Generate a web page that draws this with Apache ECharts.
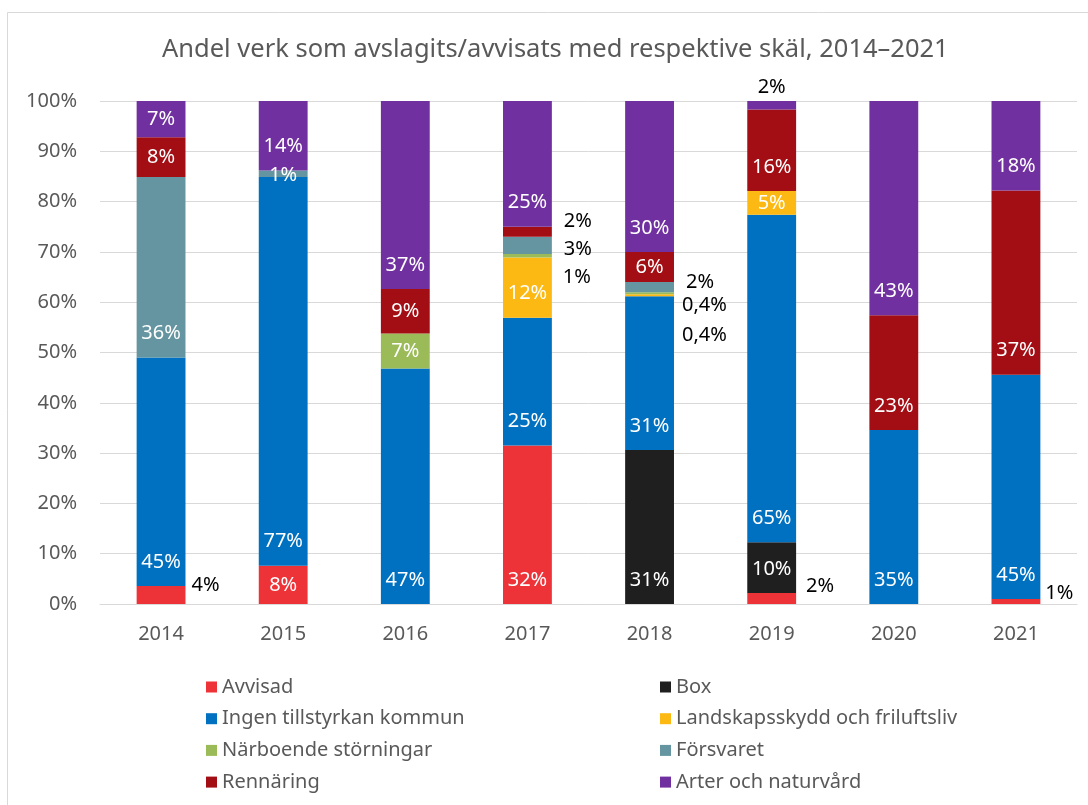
<!DOCTYPE html>
<html>
<head>
<meta charset="utf-8">
<script src="https://cdn.jsdelivr.net/npm/echarts@6/dist/echarts.min.js"></script>
<style>
html,body{margin:0;padding:0;background:#fff;}
#chart{width:1088px;height:805px;}
</style>
</head>
<body>
<div id="chart"></div>
<script>
// ---- data ----
const categories = ['2014','2015','2016','2017','2018','2019','2020','2021'];
const seriesNames = ['Avvisad','Box','Ingen tillstyrkan kommun','Landskapsskydd och friluftsliv','Närboende störningar','Försvaret','Rennäring','Arter och naturvård'];
const avvisad     = [3.6, 7.6, null, 31.5, null, 2.2, null, 1.0];
const box         = [null, null, null, null, 30.6, 10.1, null, null];
const ingen       = [45.4, 77.3, 46.8, 25.4, 30.6, 65.1, 34.6, 44.6];
const landskap    = [null, null, null, 12.0, 0.4, 4.7, null, null];
const narboende   = [null, null, 7.0, 0.7, 0.4, null, null, null];
const forsvaret   = [35.9, 1.3, null, 3.4, 2.0, null, null, null];
const rennaring   = [7.9, null, 8.8, 2.0, 6.0, 16.2, 22.8, 36.6];
const arter       = [7.2, 13.8, 37.4, 25.0, 30.0, 1.7, 42.6, 17.8];
const yTicks = ['0%','10%','20%','30%','40%','50%','60%','70%','80%','90%','100%'];

const values = [avvisad, box, ingen, landskap, narboende, forsvaret, rennaring, arter];
const colors = ['#EE3338','#1F1F1F','#0070C0','#FDB913','#9BBB59','#6495A0','#A20E14','#7030A0'];

// label placement overrides (layout only): key = seriesIndex + '|' + categoryIndex
const outside = {
  '0|0': {position:'right', offset:[1,-10]},
  '6|3': {position:'right', offset:[7,-10]},
  '5|3': {position:'right', offset:[7,4]},
  '4|3': {position:'right', offset:[6,22]},
  '5|4': {position:'right', offset:[7,-5]},
  '4|4': {position:'right', offset:[3,12]},
  '3|4': {position:'right', offset:[3,40]},
  '7|5': {position:'top', offset:[0,1]},
  '0|5': {position:'right', offset:[5,-12]},
  '0|7': {position:'right', offset:[0,-8]}
};

function labelText(v){
  if (v == null) return '';
  if (v < 0.5) return v.toFixed(1).replace('.', ',') + '%';
  return Math.round(v) + '%';
}

const FONT = 'Noto Sans';

const series = seriesNames.map((name, si) => ({
  name,
  type: 'bar',
  stack: 'total',
  barWidth: '40%',
  itemStyle: {color: colors[si]},
  emphasis: {disabled: true},
  data: values[si].map((v, ci) => {
    if (v == null) return null;
    const key = si + '|' + ci;
    let label;
    if (outside[key]) {
      label = Object.assign({show: true, color: '#000', distance: 5}, outside[key]);
    } else if (si === 5 && v < 2) {
      label = {show: true, position: 'inside', color: '#fff', offset:[0,2]};
    } else if (v >= 9) {
      label = {show: true, position: 'insideBottom', distance: 14, color: '#fff'};
    } else {
      label = {show: true, position: 'inside', color: '#fff'};
    }
    return {value: v, label};
  }),
  label: {
    show: true,
    fontFamily: FONT,
    fontSize: 20,
    formatter: p => labelText(p.value)
  }
}));

const chart = echarts.init(document.getElementById('chart'), null, {renderer: 'canvas'});
chart.setOption({
  animation: false,
  backgroundColor: '#fff',
  textStyle: {fontFamily: FONT},
  title: {
    text: 'Andel verk som avslagits/avvisats med respektive skäl, 2014–2021',
    left: 162,
    top: 37,
    padding: 0,
    textStyle: {fontFamily: FONT, fontSize: 25.5, fontWeight: 'normal', color: '#595959'}
  },
  graphic: [{
    type: 'rect',
    shape: {x: 7.5, y: 12.5, width: 1200, height: 1000},
    style: {fill: 'none', stroke: '#D9D9D9', lineWidth: 1},
    silent: true
  }],
  legend: [
    {
      data: [seriesNames[0], seriesNames[2], seriesNames[4], seriesNames[6]],
      orient: 'vertical', left: 201, top: 670,
      itemWidth: 11, itemHeight: 11, itemGap: 7.7,
      icon: 'rect',
      textStyle: {fontFamily: FONT, fontSize: 20, color: '#595959', lineHeight: 24}
    },
    {
      data: [seriesNames[1], seriesNames[3], seriesNames[5], seriesNames[7]],
      orient: 'vertical', left: 655, top: 670,
      itemWidth: 11, itemHeight: 11, itemGap: 7.7,
      icon: 'rect',
      textStyle: {fontFamily: FONT, fontSize: 20, color: '#595959', lineHeight: 24}
    }
  ],
  grid: {left: 100, right: 11, top: 101, bottom: 201, containLabel: false},
  xAxis: {
    type: 'category',
    data: categories,
    axisTick: {show: false},
    axisLine: {lineStyle: {color: '#D9D9D9', width: 1}},
    axisLabel: {color: '#595959', fontSize: 20, margin: 20, fontFamily: FONT}
  },
  yAxis: {
    type: 'value',
    min: 0, max: 100, interval: 10,
    axisLine: {show: false},
    axisTick: {show: false},
    splitLine: {lineStyle: {color: '#D9D9D9', width: 1}},
    axisLabel: {color: '#595959', fontSize: 20, margin: 23, fontFamily: FONT,
      formatter: (v) => yTicks[Math.round(v / 10)]}
  },
  series
});
</script>
</body>
</html>
